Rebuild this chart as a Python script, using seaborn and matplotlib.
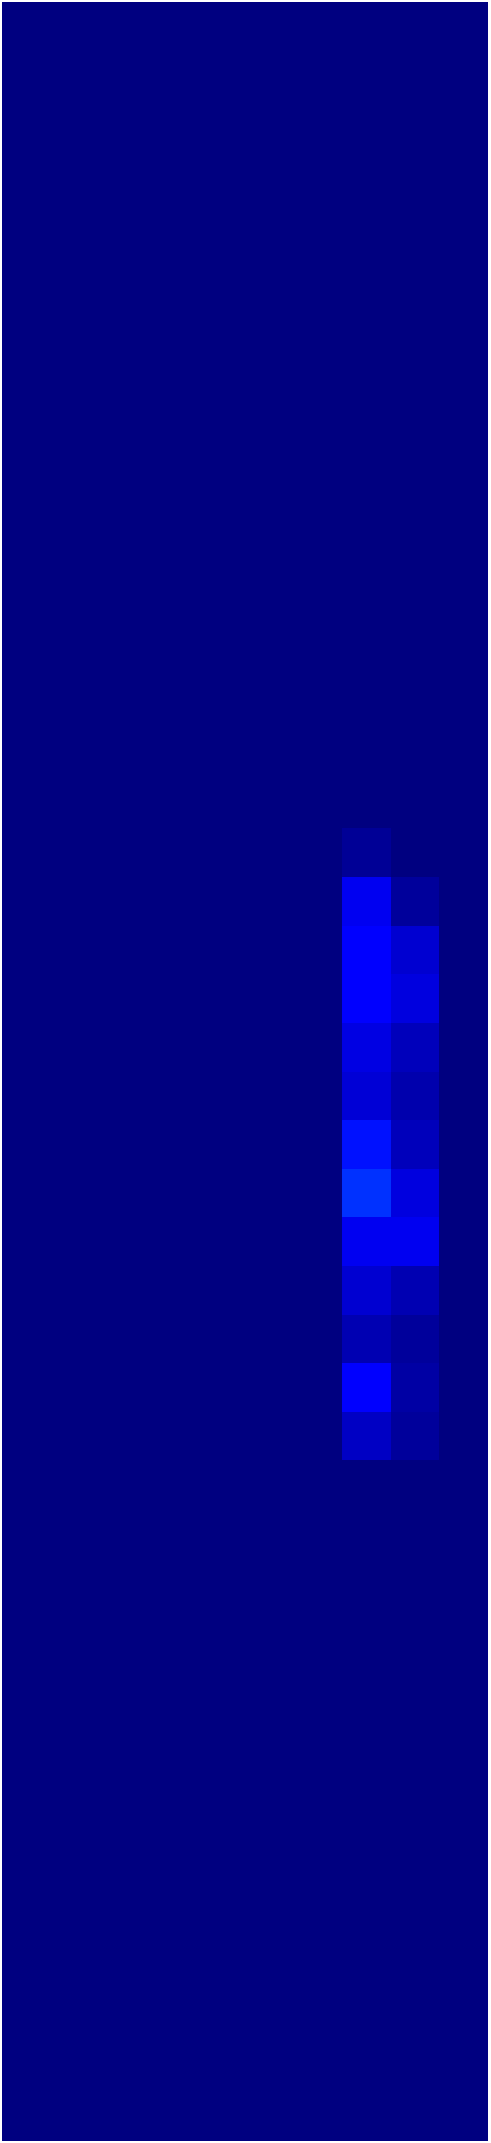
import numpy as np
import pandas as pd
import matplotlib
matplotlib.use("Agg")
import matplotlib.pyplot as plt
import seaborn as sns

# grid size (rows x columns)
n_rows = 44
n_cols = 10

# nonzero cells: rows 17..29 in columns 7 and 8
rows = list(range(17, 30))
col7 = [0.020, 0.098, 0.115, 0.120, 0.088, 0.075, 0.141, 0.172, 0.101, 0.071, 0.045, 0.110, 0.062]
col8 = [0.000, 0.026, 0.071, 0.084, 0.054, 0.041, 0.054, 0.084, 0.101, 0.045, 0.026, 0.032, 0.024]

grid = np.zeros((n_rows, n_cols))
grid[rows, 7] = col7
grid[rows, 8] = col8
data = pd.DataFrame(grid)

fig = plt.figure(figsize=(4.91, 21.43), dpi=100)
ax = fig.add_axes([2 / 491, 2 / 2143, 486 / 491, 2139 / 2143])
sns.heatmap(data, ax=ax, cmap="jet", vmin=0, vmax=1, cbar=False,
            xticklabels=False, yticklabels=False)
ax.set_xlabel("")
ax.set_ylabel("")
fig.savefig("out.png", dpi=100)
